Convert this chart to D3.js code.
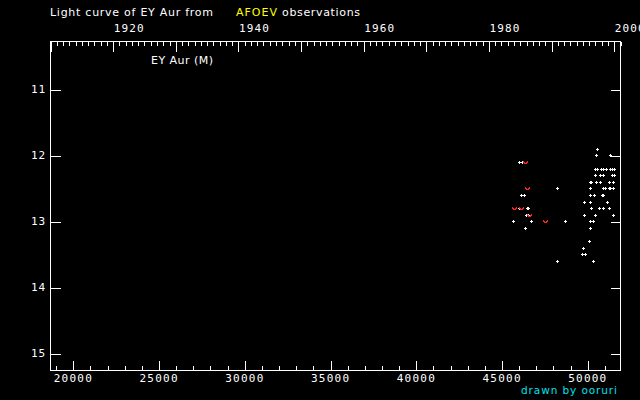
<!DOCTYPE html>
<html><head><meta charset="utf-8">
<script src="https://cdn.jsdelivr.net/npm/d3@7"></script>
<style>html,body{margin:0;padding:0;background:#000;overflow:hidden}svg{display:block}</style>
</head><body>
<svg id="c" width="640" height="400"></svg>
<script>
// ---- data ----
const jdMajorTicks = [20000, 25000, 30000, 35000, 40000, 45000, 50000];
const jdTickLabels = ["20000", "25000", "30000", "35000", "40000", "45000", "50000"];
const magTicks = [11, 12, 13, 14, 15];
const magTickLabels = ["11", "12", "13", "14", "15"];
const yearLabels = [1920, 1940, 1960, 1980, 2000];

// visual observations (JD-2400000, magnitude)
const obsJD = [
  50584,
  50525, 51306,
  46019, 46194,
  50467, 50584, 50817, 50898, 51091, 51324, 51440, 51556,
  50467, 50758, 50898, 51440, 51556,
  50175, 50234, 50525, 50758, 51283, 51516,
  48252, 50175, 50933, 51050, 51260, 51300, 51481,
  46153, 46311, 50175, 50380, 50420, 50880, 50920,
  49826, 50175, 51166,
  46036, 46500, 46560, 50234, 50700, 50933, 51248,
  46427, 46544, 49826, 50467, 51516,
  45687, 46736, 48718, 50175, 50350,
  46386, 50175,
  50117,
  49768,
  49709, 49884,
  48252, 50350
];
const obsMag = [
  11.9,
  12.0, 12.0,
  12.1, 12.1,
  12.2, 12.2, 12.2, 12.2, 12.2, 12.2, 12.2, 12.2,
  12.3, 12.3, 12.3, 12.3, 12.3,
  12.4, 12.4, 12.4, 12.4, 12.4, 12.4,
  12.5, 12.5, 12.5, 12.5, 12.5, 12.5, 12.5,
  12.6, 12.6, 12.6, 12.6, 12.6, 12.6, 12.6,
  12.7, 12.7, 12.7,
  12.8, 12.8, 12.8, 12.8, 12.8, 12.8, 12.8,
  12.9, 12.9, 12.9, 12.9, 12.9,
  13.0, 13.0, 13.0, 13.0, 13.0,
  13.1, 13.1,
  13.3,
  13.4,
  13.5, 13.5,
  13.6, 13.6
];
// fainter-than observations
const limJD = [46386, 46503, 45745, 46153, 46585, 47552];
const limMag = [12.1, 12.5, 12.8, 12.8, 12.9, 13.0];

// ---- layout ----
const L = 50, R = 620, T = 41, B = 370;
const svg = d3.select("#c");
svg.append("rect").attr("width", 640).attr("height", 400).attr("fill", "#000");

const x = d3.scaleLinear().domain([18672, 51910]).range([L, R]);
const y = d3.scaleLinear().domain([10.268, 15.253]).range([T, B]);
const xt = d3.scaleUtc().domain([new Date(Date.UTC(1910, 0, 1)), new Date(Date.UTC(2001, 0, 1))]).range([L, R]);

const font = "'DejaVu Sans Mono', monospace";
const g = svg.append("g").attr("shape-rendering", "crispEdges");

// frame
g.append("rect").attr("x", L + 0.5).attr("y", T + 0.5).attr("width", R - L).attr("height", B - T)
  .attr("fill", "none").attr("stroke", "#fff").attr("stroke-width", 1);

// bottom axis ticks (pointing up)
const minorJD = d3.range(19000, 51910, 1000);
g.append("g").attr("transform", `translate(0.5,${B + 0.5})`)
  .call(d3.axisTop(x).tickValues(minorJD).tickSize(5).tickFormat("").tickSizeOuter(0))
  .call(s => s.select(".domain").remove())
  .call(s => s.selectAll("line").attr("stroke", "#fff"));
g.append("g").attr("transform", `translate(0.5,${B + 0.5})`)
  .call(d3.axisTop(x).tickValues(jdMajorTicks).tickSize(10).tickFormat("").tickSizeOuter(0))
  .call(s => s.select(".domain").remove())
  .call(s => s.selectAll("line").attr("stroke", "#fff"));
svg.append("g").selectAll("text").data(jdMajorTicks).join("text")
  .attr("x", d => x(d)).attr("y", 382).attr("text-anchor", "middle")
  .attr("fill", "#fff").attr("font-family", font).attr("font-size", 11)
  .attr("textLength", 38).attr("lengthAdjust", "spacing")
  .text((d, i) => jdTickLabels[i]);

// top axis ticks (years, pointing down)
g.append("g").attr("transform", `translate(0.5,${T + 0.5})`)
  .call(d3.axisBottom(xt).ticks(d3.utcYear.every(1)).tickSize(4).tickFormat("").tickSizeOuter(0))
  .call(s => s.select(".domain").remove())
  .call(s => s.selectAll("line").attr("stroke", "#fff"));
g.append("g").attr("transform", `translate(0.5,${T + 0.5})`)
  .call(d3.axisBottom(xt).ticks(d3.utcYear.every(10)).tickSize(10).tickFormat("").tickSizeOuter(0))
  .call(s => s.select(".domain").remove())
  .call(s => s.selectAll("line").attr("stroke", "#fff"));
svg.append("g").selectAll("text").data(yearLabels).join("text")
  .attr("x", d => xt(new Date(Date.UTC(d, 0, 1))) + 1).attr("y", 32)
  .attr("fill", "#fff").attr("font-family", font).attr("font-size", 11)
  .attr("textLength", 30).attr("lengthAdjust", "spacing")
  .text(d => d);

// left and right magnitude ticks
g.append("g").attr("transform", `translate(${L + 0.5},0.5)`)
  .call(d3.axisRight(y).tickValues(magTicks).tickSize(10).tickFormat("").tickSizeOuter(0))
  .call(s => s.select(".domain").remove())
  .call(s => s.selectAll("line").attr("stroke", "#fff"));
g.append("g").attr("transform", `translate(${R + 0.5},0.5)`)
  .call(d3.axisLeft(y).tickValues(magTicks).tickSize(10).tickFormat("").tickSizeOuter(0))
  .call(s => s.select(".domain").remove())
  .call(s => s.selectAll("line").attr("stroke", "#fff"));
svg.append("g").selectAll("text").data(magTicks).join("text")
  .attr("x", 45).attr("y", d => y(d) + 4).attr("text-anchor", "end")
  .attr("fill", "#fff").attr("font-family", font).attr("font-size", 11)
  .attr("textLength", 14).attr("lengthAdjust", "spacing")
  .text((d, i) => magTickLabels[i]);

// titles
const t = svg.append("g").attr("font-family", "'DejaVu Sans', sans-serif").attr("font-size", 11);
t.append("text").attr("x", 50).attr("y", 16).attr("fill", "#fff")
  .attr("textLength", 163).attr("lengthAdjust", "spacing").text("Light curve of EY Aur from");
t.append("text").attr("x", 236).attr("y", 16).attr("fill", "#ffff00")
  .attr("textLength", 41).attr("lengthAdjust", "spacing").text("AFOEV");
t.append("text").attr("x", 282).attr("y", 16).attr("fill", "#fff")
  .attr("textLength", 78).attr("lengthAdjust", "spacing").text("observations");
t.append("text").attr("x", 151).attr("y", 64).attr("fill", "#fff")
  .attr("textLength", 62).attr("lengthAdjust", "spacing").text("EY Aur (M)");
t.append("text").attr("x", 521).attr("y", 394).attr("fill", "#00e0e8").attr("font-size", 10.5)
  .attr("textLength", 96).attr("lengthAdjust", "spacing").text("drawn by ooruri");

// points
const pts = svg.append("g").attr("shape-rendering", "crispEdges").attr("fill", "#fff");
const obs = obsJD.map((d, i) => ({ jd: d, mag: obsMag[i] }));
pts.selectAll("path").data(obs).join("path")
  .attr("d", d => {
    const px = Math.round(x(d.jd)), py = Math.round(y(d.mag));
    return `M${px - 1},${py}h3v1h-3z M${px},${py - 1}h1v3h-1z`;
  });

const lim = limJD.map((d, i) => ({ jd: d, mag: limMag[i] }));
svg.append("g").attr("shape-rendering", "crispEdges").attr("fill", "#ff2020")
  .selectAll("path").data(lim).join("path")
  .attr("d", d => {
    const px = Math.round(x(d.jd)), py = Math.round(y(d.mag));
    return `M${px - 2},${py - 1}h1v1h-1z M${px + 2},${py - 1}h1v1h-1z M${px - 2},${py}h2v1h-2z M${px + 1},${py}h2v1h-2z M${px - 1},${py + 1}h3v1h-3z`;
  });
</script>
</body></html>
